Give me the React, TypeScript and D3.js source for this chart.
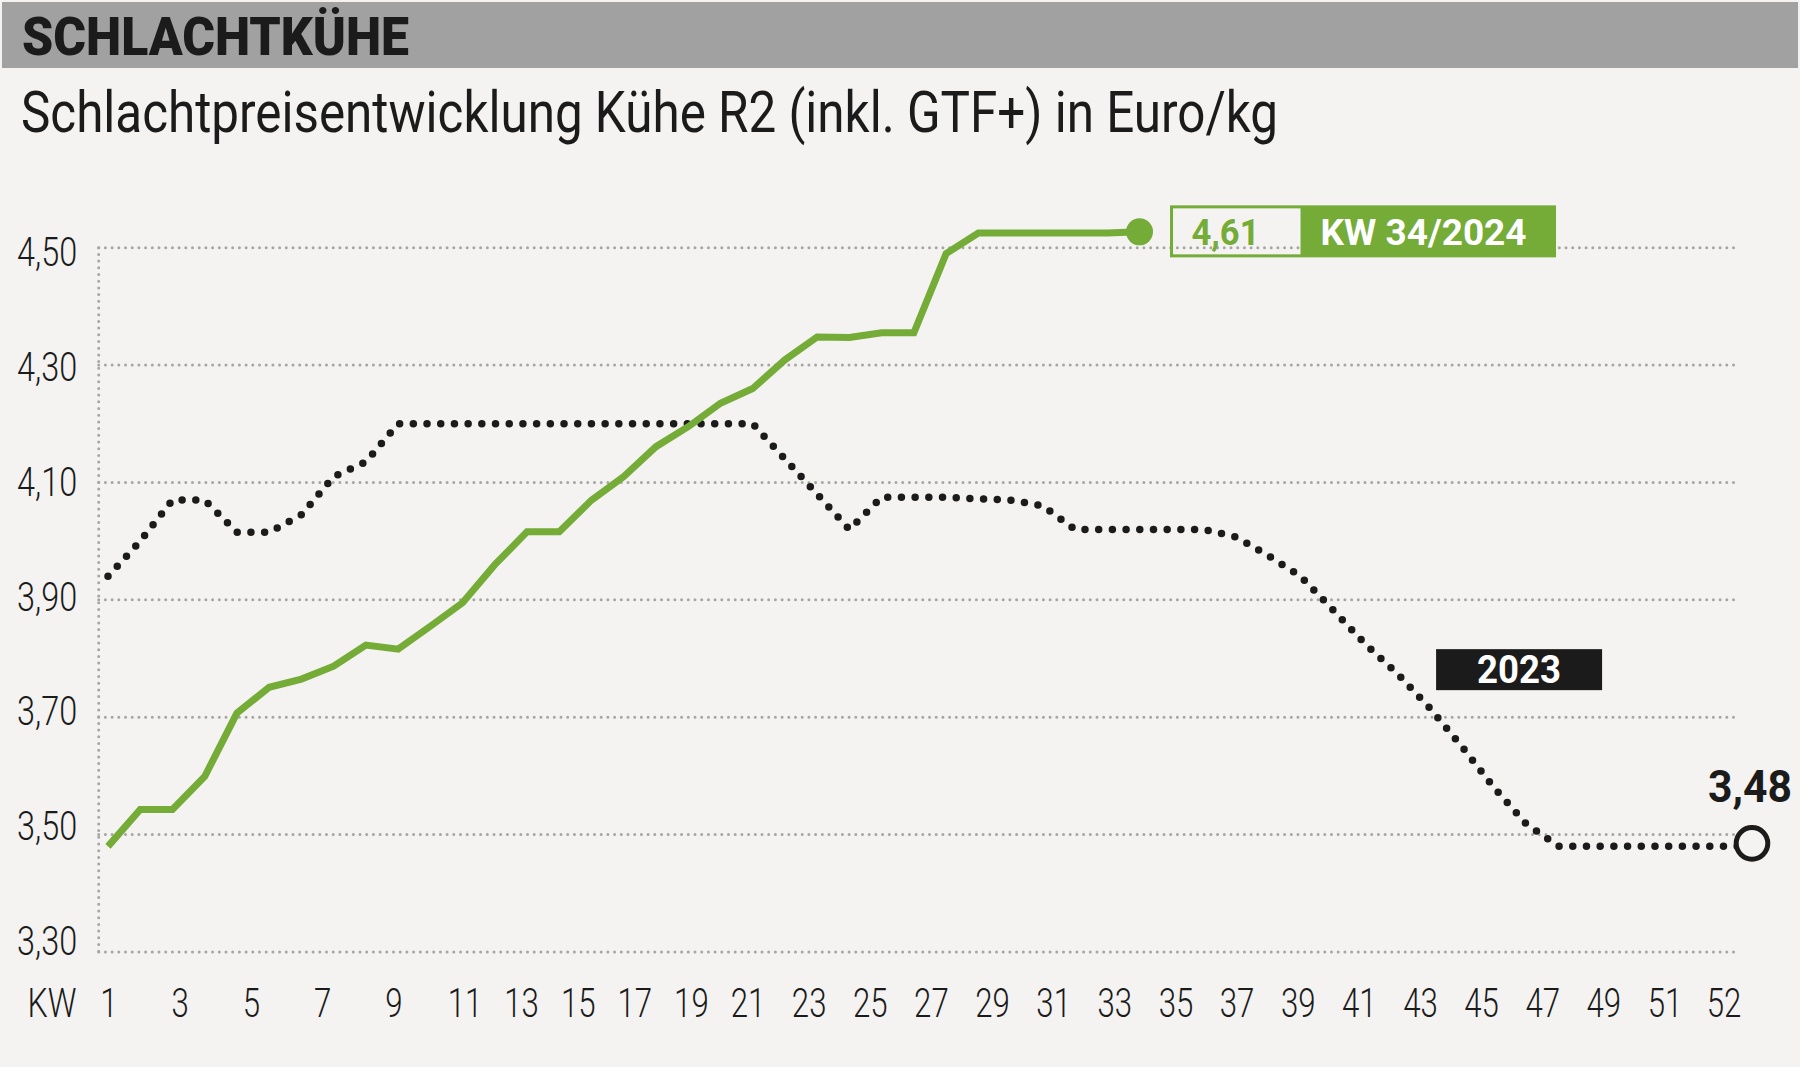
import React from 'react';
import * as d3 from 'd3';

// ---------- data ----------
const weeks = [1, 2, 3, 4, 5, 6, 7, 8, 9, 10, 11, 12, 13, 14, 15, 16, 17, 18, 19, 20, 21, 22, 23, 24, 25, 26,
  27, 28, 29, 30, 31, 32, 33, 34, 35, 36, 37, 38, 39, 40, 41, 42, 43, 44, 45, 46, 47, 48, 49, 50, 51, 52];

const price2023 = [3.94, 4.0, 4.07, 4.07, 4.015, 4.015, 4.045, 4.11, 4.135, 4.2,
  4.2, 4.2, 4.2, 4.2, 4.2, 4.2, 4.2, 4.2, 4.2, 4.2, 4.2,
  4.14, 4.08, 4.02,
  4.075, 4.075, 4.075, 4.072, 4.07,
  4.06,
  4.02, 4.02, 4.02, 4.02, 4.02,
  4.007, 3.975, 3.94, 3.883, 3.825, 3.774, 3.716, 3.65, 3.58, 3.518,
  3.48, 3.48, 3.48, 3.48, 3.48, 3.48, 3.48];

const price2024 = [3.48, 3.543, 3.543, 3.599, 3.707, 3.751, 3.765, 3.787, 3.823, 3.816,
  3.855, 3.895, 3.96,
  4.016, 4.016, 4.07, 4.11, 4.161, 4.195, 4.235, 4.26, 4.309, 4.348, 4.347, 4.355, 4.355,
  4.49, 4.525, 4.525, 4.525, 4.525, 4.525, 4.527];

const yTicks = [3.3, 3.5, 3.7, 3.9, 4.1, 4.3, 4.5];
const xTickWeeks = [1, 3, 5, 7, 9, 11, 13, 15, 17, 19, 21, 23, 25, 27, 29, 31, 33, 35, 37, 39, 41, 43, 45, 47, 49, 51, 52];

const headerText = 'SCHLACHTKÜHE';
const subtitleText = 'Schlachtpreisentwicklung Kühe R2 (inkl. GTF+) in Euro/kg';
const latestValueLabel = '4,61';
const latestWeekLabel = 'KW 34/2024';
const prevYearLabel = '2023';
const prevYearEndLabel = '3,48';
const axisUnitLabel = 'KW';

// ---------- styles ----------
const W = 1800;
const H = 1067;
const BG = '#f4f3f1';
const BAND = '#a1a1a1';
const GREEN = '#74ac37';
const INK = '#1b1b1b';
const GRID = '#a6a6a6';
const FONT = 'Roboto, "Noto Sans", "DejaVu Sans", sans-serif';

export default function App() {
  const x = d3.scaleLinear().domain([1, 52]).range([108, 1752]);
  const y = d3.scaleLinear().domain([3.3, 4.5]).range([952, 247.7]);
  // tick labels in the original are set on their own (slightly irregular) grid
  const xLabel = d3.scaleLinear().domain([1, 11, 21, 51, 52]).range([109, 465, 748, 1665, 1724]);
  const yLabel = d3.scaleLinear().domain([3.3, 4.5]).range([955, 266]);

  const fmt = (v: number) => d3.format('.2f')(v).replace('.', ',');

  const line = d3
    .line<number>()
    .x((_, i) => x(weeks[i]))
    .y((d) => y(d));

  const plotLeft = 98.7;
  const plotRight = 1740;

  const lastIdx24 = price2024.length - 1;
  const endX24 = x(weeks[lastIdx24]);
  const endY24 = y(price2024[lastIdx24]);
  const endX23 = x(weeks[price2023.length - 1]);
  const endY23 = y(price2023[price2023.length - 1]);

  const boxX = endX24 + 32;
  const boxY = endY24 - 25;
  const boxH = 49;
  const boxSplit = 129;
  const boxW = 383;

  const tagX = x(42.2);
  const tagY = y(3.816);

  return (
    <div style={{ position: 'absolute', left: 0, top: 0 }}>
      <svg width={W} height={H} viewBox={`0 0 ${W} ${H}`} style={{ display: 'block' }}>
        <rect x={0} y={0} width={W} height={H} fill={BG} />
        {/* header band */}
        <rect x={2} y={2} width={W - 4} height={66} fill={BAND} />
        <text
          x={22}
          y={55}
          fontFamily={FONT}
          fontWeight={900}
          fontSize={53}
          fill={INK}
          textLength={387}
          lengthAdjust="spacingAndGlyphs"
        >
          {headerText}
        </text>
        <text
          x={21}
          y={132}
          fontFamily={FONT}
          fontWeight={400}
          fontSize={57}
          fill={INK}
          textLength={1257}
          lengthAdjust="spacingAndGlyphs"
        >
          {subtitleText}
        </text>

        {/* grid */}
        <g stroke={GRID} strokeWidth={3} strokeLinecap="round" strokeDasharray="0 6.7" fill="none">
          {yTicks.map((t) => (
            <line key={t} x1={plotLeft} x2={plotRight} y1={y(t)} y2={y(t)} />
          ))}
          <line x1={plotLeft} x2={plotLeft} y1={y(4.5)} y2={y(3.3)} />
        </g>

        {/* y tick labels */}
        {yTicks.map((t) => (
          <text
            key={t}
            transform={`translate(17, ${yLabel(t)}) scale(0.81, 1)`}
            fontFamily={FONT}
            fontWeight={300}
            fontSize={40}
            fill={INK}
          >
            {fmt(t)}
          </text>
        ))}

        {/* x tick labels */}
        <text
          transform={`translate(52, 1016.7) scale(0.8, 1)`}
          textAnchor="middle"
          fontFamily={FONT}
          fontWeight={300}
          fontSize={40}
          fill={INK}
        >
          {axisUnitLabel}
        </text>
        {xTickWeeks.map((w) => (
          <text
            key={w}
            transform={`translate(${xLabel(w)}, 1016.7) scale(0.78, 1)`}
            textAnchor="middle"
            fontFamily={FONT}
            fontWeight={300}
            fontSize={40}
            fill={INK}
          >
            {w}
          </text>
        ))}

        {/* 2023 dotted line */}
        <path
          d={line(price2023) || ''}
          fill="none"
          stroke={INK}
          strokeWidth={7.5}
          strokeLinecap="round"
          strokeLinejoin="round"
          strokeDasharray="0 13.7"
        />

        {/* 2024 green line */}
        <path
          d={line(price2024) || ''}
          fill="none"
          stroke={GREEN}
          strokeWidth={7}
          strokeLinejoin="miter"
          strokeLinecap="butt"
        />
        <circle cx={endX24} cy={endY24} r={13.5} fill={GREEN} />

        {/* latest value box */}
        <rect
          x={boxX}
          y={boxY}
          width={boxW}
          height={boxH}
          fill="none"
          stroke={GREEN}
          strokeWidth={3}
        />
        <rect x={boxX + boxSplit} y={boxY} width={boxW - boxSplit} height={boxH} fill={GREEN} />
        <text
          x={boxX + 54}
          y={boxY + 38}
          textAnchor="middle"
          fontFamily={FONT}
          fontWeight={700}
          fontSize={37.5}
          fill={GREEN}
          textLength={68}
          lengthAdjust="spacingAndGlyphs"
        >
          {latestValueLabel}
        </text>
        <text
          x={boxX + 252}
          y={boxY + 38}
          textAnchor="middle"
          fontFamily={FONT}
          fontWeight={700}
          fontSize={37.5}
          fill="#ffffff"
          textLength={206}
          lengthAdjust="spacingAndGlyphs"
        >
          {latestWeekLabel}
        </text>

        {/* 2023 label */}
        <rect x={tagX} y={tagY} width={166} height={41} fill={INK} />
        <text
          x={tagX + 83}
          y={tagY + 34}
          textAnchor="middle"
          fontFamily={FONT}
          fontWeight={700}
          fontSize={39}
          fill="#ffffff"
          textLength={84}
          lengthAdjust="spacingAndGlyphs"
        >
          {prevYearLabel}
        </text>

        {/* 2023 end marker */}
        <circle cx={endX23} cy={endY23 - 3} r={15.8} fill={BG} stroke={INK} strokeWidth={5} />
        <text
          x={endX23 - 2}
          y={endY23 - 44}
          textAnchor="middle"
          fontFamily={FONT}
          fontWeight={700}
          fontSize={44}
          fill={INK}
          textLength={84}
          lengthAdjust="spacingAndGlyphs"
        >
          {prevYearEndLabel}
        </text>
      </svg>
    </div>
  );
}
